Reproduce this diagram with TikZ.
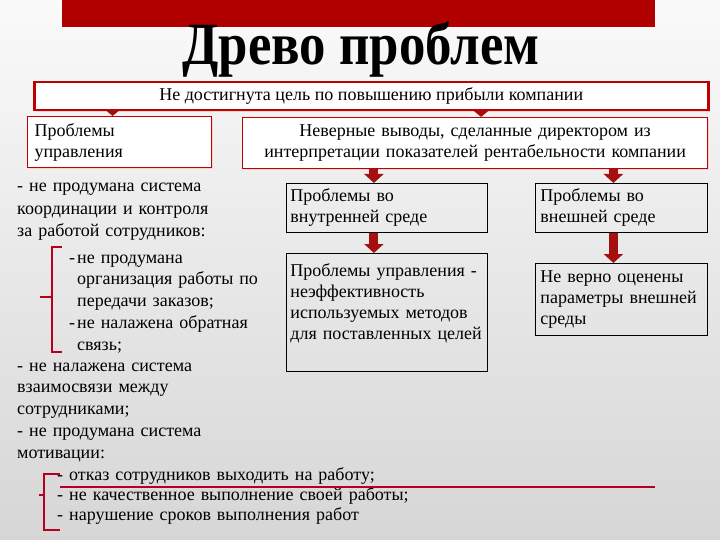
\documentclass[tikz,border=0pt]{standalone}
\usepackage{fontspec}
\setmainfont{Liberation Serif}
\usetikzlibrary{arrows.meta,calc,shadows}
\definecolor{barred}{RGB}{176,0,0}
\definecolor{boxred}{RGB}{192,0,0}
\definecolor{arrred}{RGB}{165,15,15}
\definecolor{linered}{RGB}{184,0,30}

\begin{document}
\begin{tikzpicture}[x=1pt,y=-1pt,
  redbox/.style={draw=boxred,line width=1.2pt,fill=white,inner sep=0pt,anchor=north west,
    drop shadow={shadow xshift=1.5pt,shadow yshift=-1.5pt,fill=red!30,opacity=0.5}},
  blackbox/.style={draw=black,line width=0.8pt,inner sep=0pt,anchor=north west},
  txt/.style={font=\fontsize{18}{21}\selectfont},
  bigarrow/.style={arrred,line width=9pt,-{Triangle[width=19pt,length=9pt]}},
  smallarrow/.style={arrred,line width=6pt,-{Triangle[width=14pt,length=6pt]}},
  brace/.style={linered,line width=2.5pt}]
\useasboundingbox (0,0) rectangle (720,540);
\shade[top color=gray!4,bottom color=gray!32] (0,0) rectangle (720,540);
\fill[barred] (62,0) rectangle (655,27);
\node[anchor=base,font=\fontsize{60}{60}\selectfont\bfseries] (title) at (361,65) {\scalebox{0.88}[1]{Древо проблем}};

% boxes
\node[redbox,txt,line width=2.5pt,minimum width=674pt,minimum height=28pt] (goal) at (33,81)
  {Не достигнута цель по повышению прибыли компании};
\node[redbox,txt,text width=170pt,inner xsep=7pt,minimum height=51pt,align=left] (mgmt) at (27,116)
  {Проблемы\\управления};
\node[redbox,txt,text width=451pt,inner xsep=7pt,minimum height=51pt,align=center] (wrong) at (242,117)
  {Неверные выводы, сделанные директором из\\интерпретации показателей рентабельности компании};
\node[blackbox,txt,text width=193pt,inner xsep=4pt,minimum height=49pt,align=left] (inner) at (286,183)
  {Проблемы во\\внутренней среде};
\node[blackbox,txt,text width=162pt,inner xsep=5pt,minimum height=49pt,align=left] (outer) at (535,183)
  {Проблемы во\\внешней среде};
\node[blackbox,txt,text width=193pt,inner xsep=4pt,minimum height=118pt,align=left] (methods) at (286,253)
  {Проблемы управления -\\неэффективность\\используемых методов\\для поставленных целей\\\mbox{}};
\node[blackbox,txt,text width=162pt,inner xsep=5pt,minimum height=72pt,align=left] (params) at (535,263)
  {Не верно оценены\\параметры внешней\\среды};

% arrows
\path (mgmt.north) ++(-7,0) coordinate (a1);
\path (wrong.north) ++(6,0) coordinate (a2);
\path (inner.north) ++(-13,0) coordinate (a3);
\path (outer.north) ++(-8,0) coordinate (a4);
\path (methods.north) ++(-13,0) coordinate (a5);
\path (params.north) ++(-8,0) coordinate (a6);
\draw[smallarrow] (goal.south -| a1) -- (a1);
\draw[smallarrow] (goal.south -| a2) -- (a2);
\draw[bigarrow] (wrong.south -| a3) -- (a3);
\draw[bigarrow] (wrong.south -| a4) -- (a4);
\draw[bigarrow] (inner.south -| a5) -- (a5);
\draw[bigarrow] (outer.south -| a6) -- (a6);

% left column
\node[anchor=base west,inner sep=0pt,text width=240pt,align=left,font=\fontsize{18}{22.5}\selectfont] (main1) at (17,192)
  {- не продумана система\\координации и контроля\\за работой сотрудников:};
\node[anchor=base west,inner sep=0pt,text width=200pt,align=left,font=\fontsize{18}{21.75}\selectfont] (sub1) at (77,263)
  {\leavevmode\llap{-\hspace{2pt}}не продумана\\организация работы по\\передачи заказов;\\\leavevmode\llap{-\hspace{2pt}}не налажена обратная\\связь;};
\node[anchor=base west,inner sep=0pt,text width=240pt,align=left,font=\fontsize{18}{21.75}\selectfont] (main2) at (17,371)
  {- не налажена система\\взаимосвязи между\\сотрудниками;\\- не продумана система\\мотивации:};
\node[anchor=base west,inner sep=0pt,text width=400pt,align=left,font=\fontsize{18}{20}\selectfont] (sub2) at (57,480)
  {- отказ сотрудников выходить на работу;\\- не качественное выполнение своей работы;\\- нарушение сроков выполнения работ};

% braces
\draw[brace] (62,247) -- (52,247) -- (52,352) -- (62,352);
\draw[brace] (52,297) -- (40,297);
\draw[brace] (60,474) -- (44,474) -- (44,530) -- (60,530);
\draw[brace] (44,495) -- (39,495);
\draw[linered,line width=2.5pt] (60,487) -- (655,487);
\end{tikzpicture}
\end{document}
